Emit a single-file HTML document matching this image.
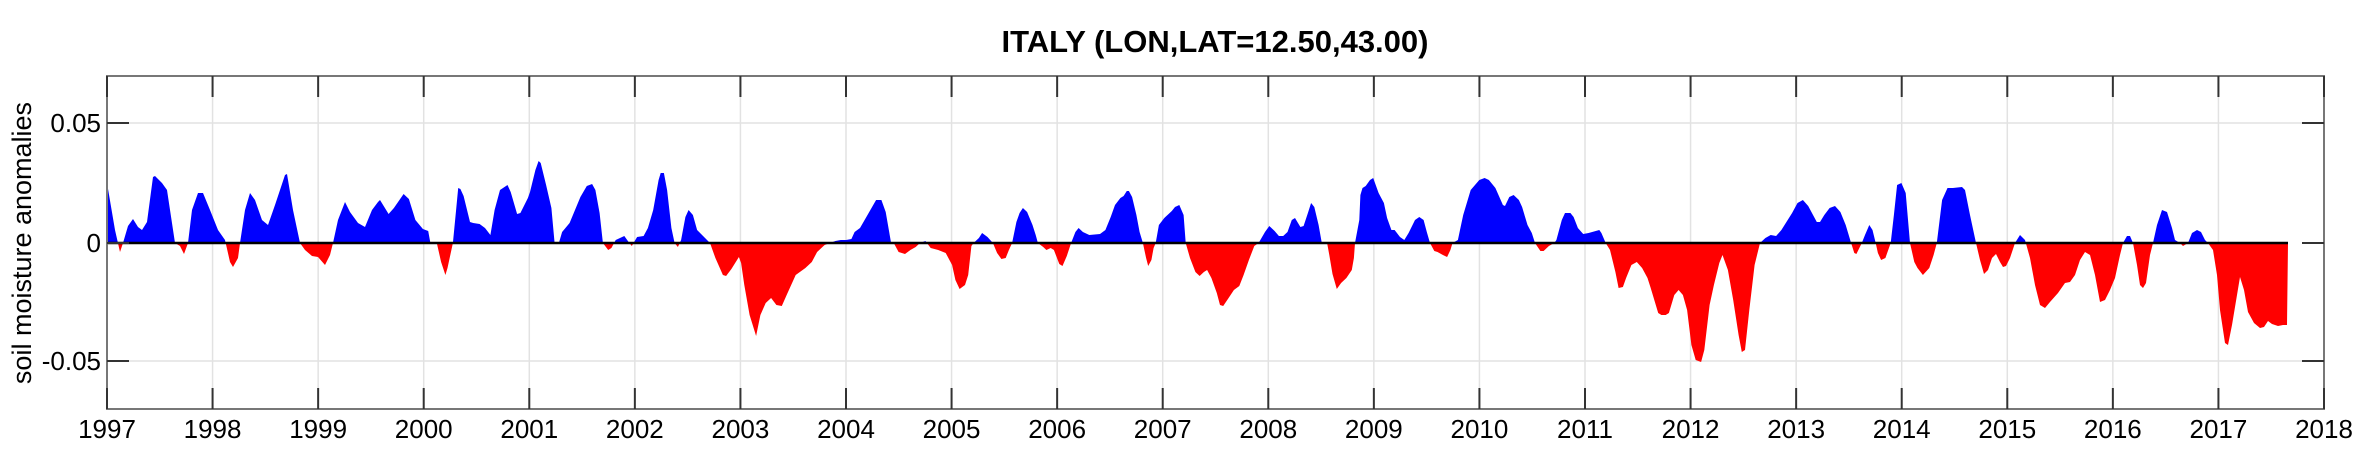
<!DOCTYPE html>
<html><head><meta charset="utf-8"><style>
html,body{margin:0;padding:0;background:#fff;}
svg{display:block;font-family:"Liberation Sans",Arial,sans-serif;}
</style></head><body>
<svg id="s" width="2362" height="471" viewBox="0 0 2362 471" xmlns="http://www.w3.org/2000/svg">
<defs>
<clipPath id="up"><rect x="107" y="76" width="2217" height="167"/></clipPath>
<clipPath id="dn"><rect x="107" y="243" width="2217" height="166"/></clipPath>
</defs>
<rect x="0" y="0" width="2362" height="471" fill="#fff"/>
<g id="grid" stroke="#e2e2e2" stroke-width="1.5"></g>
<path id="pb" fill="#0000ff" clip-path="url(#up)"/>
<path id="pr" fill="#ff0000" clip-path="url(#dn)"/>
<line x1="107" y1="243" x2="2288" y2="243" stroke="#000" stroke-width="2.5"/>
<rect x="107" y="76" width="2217" height="333" fill="none" stroke="#777" stroke-width="2"/>
<g id="ticks" stroke="#333" stroke-width="2"></g>
<g id="lbl" font-size="26" fill="#000"></g>
<text x="1215" y="52" font-size="31" font-weight="bold" text-anchor="middle">ITALY (LON,LAT=12.50,43.00)</text>
<text transform="translate(31,243) rotate(-90)" font-size="27" text-anchor="middle">soil moisture anomalies</text>
</svg>
<script>
var A=[[107,183],[115,230],[120,252],[123,243],[128,226],[133,219],[138,227],[142,230],[147,222],[153,177],[155,176],[162,183],[167,190],[175,243],[180,246],[184,254],[188,243],[192,210],[198,193],[203,193],[210,210],[218,230],[225,240],[230,262],[233,267],[238,258],[240,243],[245,210],[250,193],[255,200],[262,220],[268,225],[275,205],[285,175],[287,174],[293,210],[300,243],[305,250],[312,256],[318,257],[325,265],[330,255],[333,243],[338,220],[345,202],[350,212],[358,223],[365,227],[372,210],[378,202]];
var B=[[380,200],[388,214],[393,208],[402,194],[407,199],[413,220],[420,229],[425,231],[427,243],[433,243],[437,262],[441,275],[443,268],[448,243],[451,210],[453,188],[455,189],[458,196],[464,222],[467,223],[473,224],[478,228],[483,235],[487,210],[492,190],[499,185],[502,192],[508,214],[511,213],[518,198],[520,192],[525,170],[528,161],[530,163],[535,185],[540,208],[543,243],[547,243],[550,232],[557,223],[562,210],[567,197],[573,186],[578,184],[581,190],[585,213],[588,243],[593,250],[596,248],[600,240],[608,236],[612,242],[615,246],[620,237],[626,236],[630,228],[635,210],[640,180],[642,173],[645,173],[648,190],[652,228],[655,243],[658,247],[661,240],[665,217],[668,210],[672,215],[676,230],[688,243],[693,258],[700,275],[703,276],[708,269],[715,257],[717,263],[720,285],[725,315],[731,336],[735,315],[740,303],[745,298],[750,305],[755,306],[760,294],[768,275],[777,268],[783,262],[788,252],[795,245],[800,243],[805,241],[810,240],[815,240],[820,239],[823,232],[828,228],[835,215],[843,200],[848,200],[852,212],[857,243],[860,244],[864,252],[870,254],[875,250],[880,247]];
var C=[[920,243],[925,241],[930,248],[937,250],[944,253],[950,265],[953,280],[957,289],[962,285],[965,275],[968,246],[970,243],[975,238],[978,233],[983,237],[988,243],[992,253],[996,259],[1000,258],[1003,250],[1006,243],[1010,222],[1013,213],[1016,208],[1020,212],[1025,225],[1028,235],[1030,243],[1035,247],[1038,250],[1042,248],[1045,250],[1050,264],[1053,266],[1057,256],[1061,243],[1065,232],[1068,228],[1072,232],[1078,235],[1088,234],[1093,230],[1098,217],[1102,205],[1107,198],[1110,196],[1113,191],[1115,191],[1118,197],[1122,215],[1125,232],[1128,243],[1131,258],[1133,266],[1136,260],[1138,248],[1140,243],[1143,225],[1148,218],[1155,211],[1158,207],[1162,205],[1166,215],[1168,243],[1172,258],[1177,272],[1181,276],[1185,272],[1188,270],[1192,278],[1197,293],[1200,305],[1203,306],[1208,298],[1213,290],[1218,286],[1222,275],[1227,260],[1232,246],[1236,243],[1242,232],[1246,226],[1251,231],[1255,236],[1259,236],[1263,232],[1267,220],[1270,218],[1275,227],[1278,226],[1282,213],[1285,203],[1288,207],[1292,225],[1295,243],[1300,243],[1302,255],[1305,274],[1309,289],[1313,283],[1318,278],[1323,270],[1325,258],[1326,243],[1330,220],[1331,195],[1333,188],[1336,186],[1340,180],[1343,178],[1348,193],[1353,203],[1356,218],[1360,230],[1363,230],[1368,237],[1372,240],[1376,233],[1382,220],[1386,217],[1390,220],[1393,232],[1396,243],[1400,251],[1403,252],[1408,255],[1412,257],[1415,250],[1417,243],[1422,240]];
var D=[[1460,230],[1463,215],[1470,190],[1478,180],[1483,178],[1487,180],[1493,188],[1500,205],[1502,206],[1506,197],[1510,195],[1515,200],[1518,207],[1523,225],[1527,233],[1530,243],[1535,251],[1538,251],[1543,246],[1548,243],[1550,240],[1555,220],[1558,213],[1563,213],[1566,217],[1570,228],[1575,234],[1580,233],[1590,230],[1592,233],[1596,243],[1600,250],[1605,272],[1608,288],[1612,287],[1615,278],[1620,265],[1625,262],[1630,268],[1635,278],[1638,288],[1645,313],[1648,315],[1652,315],[1655,313],[1660,295],[1664,290],[1668,295],[1672,310],[1676,345],[1680,360],[1685,362],[1688,350],[1693,305],[1697,285],[1702,263],[1705,255],[1710,270],[1715,300],[1720,335],[1723,352],[1726,350],[1730,310],[1735,265],[1740,243],[1745,238],[1750,235],[1755,236],[1760,230],[1770,213],[1775,203],[1780,200],[1785,206],[1793,222],[1796,222],[1800,215],[1805,208],[1810,206],[1815,212],[1820,225],[1825,243],[1828,253],[1830,254],[1835,243],[1838,235],[1842,225],[1845,230],[1848,243],[1850,253],[1853,260],[1857,258],[1862,243],[1865,215],[1868,185],[1872,183],[1876,193],[1880,243],[1884,262],[1887,268],[1892,275],[1898,268],[1902,255],[1905,243],[1910,200],[1915,188],[1920,188]];
var E=[[1962,187],[1965,190],[1970,215],[1976,243],[1980,260],[1984,274],[1988,270],[1992,258],[1996,254],[2000,262],[2003,267],[2006,266],[2010,258],[2015,243],[2020,235],[2025,240],[2030,258],[2035,285],[2040,305],[2045,308],[2050,302],[2058,293],[2065,283],[2070,282],[2075,275],[2080,260],[2085,252],[2090,255],[2095,275],[2100,302],[2105,300],[2110,290],[2115,278],[2120,255],[2123,243],[2127,236],[2130,236],[2133,243],[2137,265],[2140,285],[2143,288],[2146,283],[2150,255],[2153,243],[2157,225],[2162,210],[2167,212],[2172,228],[2175,240],[2180,243],[2183,246],[2188,243],[2192,233],[2197,230],[2201,232],[2205,240],[2208,243],[2213,250],[2217,275],[2220,310],[2225,343],[2228,345],[2232,325],[2237,295],[2240,277],[2244,290],[2248,312],[2254,323],[2260,328],[2264,327],[2268,321],[2272,324],[2278,326],[2283,325],[2287,325]];
var k=3/2.8;
function m(arr,o){return arr.map(function(p){return [o+(p[0]-o)*k,p[1]];});}
var P=A.concat(m(B,380),m(C,920),m(D,1460),E);
var d="M107,243 ";P.forEach(function(p){d+="L"+p[0].toFixed(1)+","+p[1]+" ";});d+="L2288,243 Z";
document.getElementById('pb').setAttribute('d',d);document.getElementById('pr').setAttribute('d',d);
var ns="http://www.w3.org/2000/svg";
function el(t,a,par,txt){var e=document.createElementNS(ns,t);for(var q in a)e.setAttribute(q,a[q]);if(txt)e.textContent=txt;document.getElementById(par).appendChild(e);}
var W=(2324-107)/21;
for(var i=0;i<=21;i++){var x=107+i*W;
 if(i>0&&i<21)el('line',{x1:x,y1:76,x2:x,y2:409},'grid');
 el('line',{x1:x,y1:76,x2:x,y2:97},'ticks');el('line',{x1:x,y1:388,x2:x,y2:409},'ticks');
 el('text',{x:x,y:438,'text-anchor':'middle'},'lbl',String(1997+i));}
[[123,'0.05'],[243,'0'],[361,'-0.05']].forEach(function(t){
 if(t[1]!='0')el('line',{x1:107,y1:t[0],x2:2324,y2:t[0]},'grid');
 el('line',{x1:107,y1:t[0],x2:129,y2:t[0]},'ticks');el('line',{x1:2302,y1:t[0],x2:2324,y2:t[0]},'ticks');
 el('text',{x:101,y:t[0]+9,'text-anchor':'end'},'lbl',t[1]);});
</script>
</body></html>
